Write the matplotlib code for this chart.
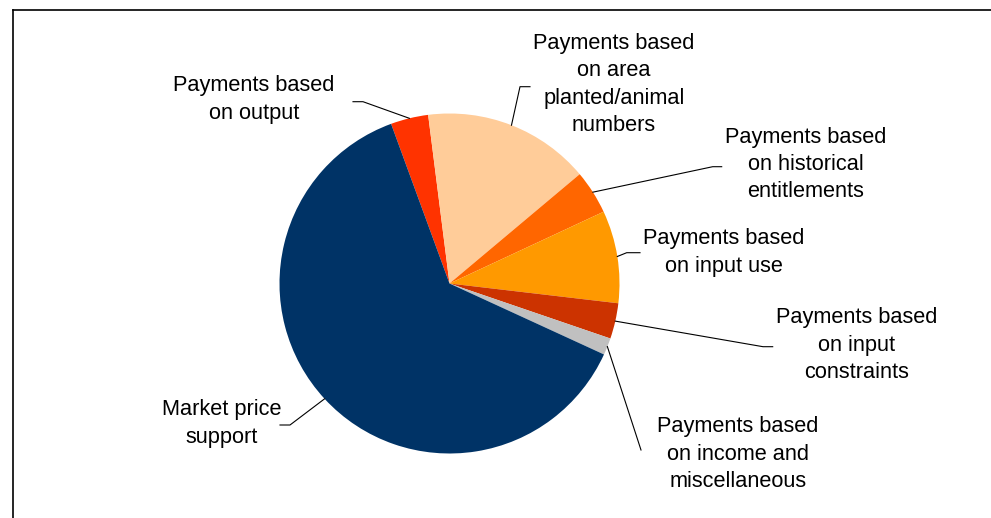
"""
plot.py

Pie chart of support composition with leader-line labels.
"""

import numpy as np
import matplotlib
matplotlib.use("Agg")
import matplotlib.pyplot as plt
from matplotlib.lines import Line2D

# slices, clockwise from the top-left
labels = ["Payments based\non output",
          "Payments based\non area\nplanted/animal\nnumbers",
          "Payments based\non historical\nentitlements",
          "Payments based\non input use",
          "Payments based\non input\nconstraints",
          "Payments based\non income and\nmiscellaneous",
          "Market price\nsupport"]
shares = [3.58, 15.9, 4.18, 8.8, 3.39, 1.61, 62.6]
colors = ["#FF3300", "#FFCC99", "#FF6600", "#FF9900", "#CC3300",
          "#C0C0C0", "#003366"]

W, H = 991, 518


def flip(y):
    """image row -> data y (y up)"""
    return H - y


# text block centres and the elbow where the leader meets the text
text_pos = [(254, 99.5), (614, 84.5), (806, 164.5), (724, 252.5),
            (857, 345), (738, 454), (222, 423.5)]
elbows = [((363, 101.7), (353, 101.7)),
          ((520, 86.7), (530, 86.7)),
          ((712.7, 166.7), (721.7, 166.7)),
          ((626.7, 252.7), (640, 252.7)),
          ((763, 346.7), (772.7, 346.7)),
          ((641, 450), (641, 450)),
          ((290, 425), (280, 425))]

fig = plt.figure(figsize=(W / 100, H / 100), dpi=100)
ax = fig.add_axes([0, 0, 1, 1])
ax.set_xlim(0, W)
ax.set_ylim(0, H)
ax.set_aspect("equal")
ax.axis("off")

cx, cy, r = 449.5, flip(283.5), 170
wedges, _ = ax.pie(shares, colors=colors, startangle=110.1,
                   counterclock=False, center=(cx, cy), radius=r,
                   wedgeprops=dict(linewidth=0))
ax.set_xlim(0, W)
ax.set_ylim(0, H)

for w, lab, (tx, ty), (p1, p2) in zip(wedges, labels, text_pos, elbows):
    mid = np.deg2rad((w.theta1 + w.theta2) / 2)
    ex, ey = cx + r * np.cos(mid), cy + r * np.sin(mid)
    ax.plot([ex, p1[0], p2[0]], [ey, flip(p1[1]), flip(p2[1])],
            color="black", lw=0.8)
    ax.text(tx, flip(ty), lab, ha="center", va="center", fontsize=15.7,
            family="Liberation Sans", linespacing=1.38)

# chart frame (clipped at right and bottom)
fig.add_artist(Line2D([12.5 / W, 1], [1 - 9.5 / H, 1 - 9.5 / H],
                      color="black", lw=1.2))
fig.add_artist(Line2D([12.5 / W, 12.5 / W], [0, 1 - 9.5 / H],
                      color="black", lw=1.2))

fig.savefig("out.png", dpi=100)
